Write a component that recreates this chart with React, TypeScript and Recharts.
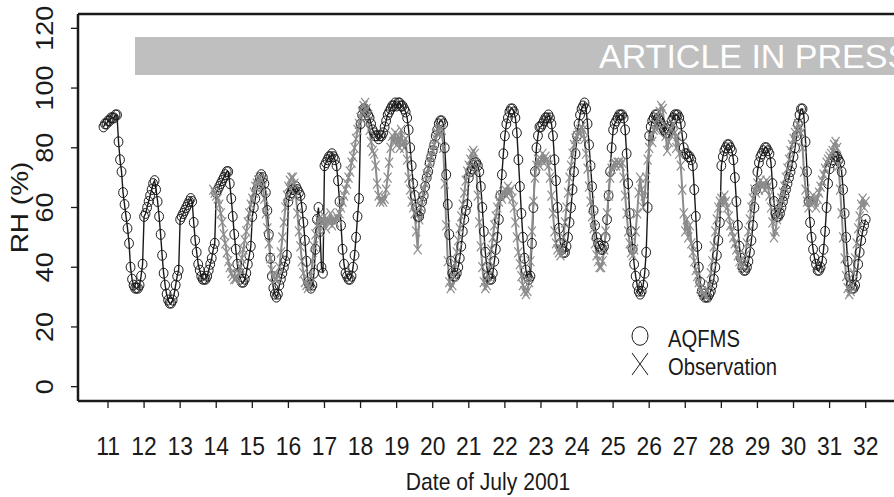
import React from "react";
import { LineChart, Line, XAxis, YAxis, ReferenceLine } from "recharts";

// tick labels / axes
const days = [11, 12, 13, 14, 15, 16, 17, 18, 19, 20, 21, 22, 23, 24, 25, 26, 27, 28, 29, 30, 31, 32];
const yTicks = [0, 20, 40, 60, 80, 100, 120];

// hourly RH (%), hours counted from July 11 00:00
const aqfmsStartHour = -3;
const obsStartHour = 70;

const aqfms = [
  87, 88, 88,
  89, 89, 90, 90, 90, 91, 91, 82, 76, 72, 65, 61, 57, 53, 48, 40, 36, 34, 33, 33, 33, 34, 37, 41, // 11
  57, 58, 60, 62, 64, 66, 68, 69, 66, 62, 57, 51, 44, 38, 34, 31, 29, 28, 28, 29, 31, 34, 37, 39, // 12
  56, 57, 58, 59, 60, 61, 62, 63, 62, 55, 49, 45, 41, 39, 37, 36, 36, 36, 37, 39, 41, 43, 46, 48, // 13
  65, 66, 67, 68, 69, 70, 71, 72, 72, 68, 63, 57, 51, 46, 41, 38, 36, 35, 35, 36, 38, 41, 44, 47, // 14
  57, 60, 63, 66, 68, 70, 71, 70, 68, 65, 59, 51, 43, 37, 33, 31, 30, 31, 34, 36, 38, 40, 42, 44, // 15
  62, 64, 65, 66, 66, 67, 66, 65, 64, 60, 55, 49, 42, 35, 34, 33, 34, 38, 46, 56, 60, 52, 40, 38, // 16
  74, 75, 76, 77, 77, 78, 77, 76, 74, 69, 62, 54, 46, 41, 38, 37, 36, 36, 37, 40, 44, 50, 57, 63, // 17
  88, 91, 93, 93, 92, 91, 90, 88, 86, 85, 84, 84, 83, 84, 84, 85, 87, 89, 91, 92, 93, 94, 94, 95, // 18
  94, 95, 95, 94, 94, 93, 92, 90, 86, 80, 74, 68, 64, 60, 57, 57, 59, 62, 64, 67, 70, 72, 75, 77, // 19
  79, 81, 84, 86, 88, 89, 89, 88, 80, 71, 61, 51, 42, 38, 37, 37, 38, 40, 43, 47, 52, 56, 59, 61, // 20
  70, 72, 73, 74, 75, 75, 74, 72, 67, 60, 52, 45, 40, 37, 36, 36, 38, 42, 46, 50, 56, 64, 71, 78, // 21
  84, 88, 90, 92, 93, 93, 92, 90, 85, 76, 67, 58, 50, 43, 39, 37, 36, 37, 48, 60, 72, 80, 84, 87, // 22
  87, 88, 89, 90, 90, 91, 90, 88, 84, 76, 69, 60, 53, 48, 46, 45, 45, 47, 50, 55, 60, 66, 72, 78, // 23
  84, 88, 91, 93, 94, 95, 93, 88, 81, 74, 67, 59, 54, 50, 48, 47, 46, 46, 47, 50, 56, 64, 72, 80, // 24
  86, 88, 89, 90, 91, 91, 91, 90, 86, 78, 68, 58, 52, 46, 41, 37, 34, 32, 31, 32, 34, 38, 45, 60, // 25
  84, 87, 89, 90, 91, 91, 90, 89, 88, 87, 86, 85, 85, 86, 87, 89, 90, 91, 91, 91, 90, 88, 84, 80, // 26
  78, 78, 77, 77, 76, 74, 66, 57, 47, 40, 35, 32, 31, 30, 30, 30, 31, 32, 34, 36, 40, 44, 49, 55, // 27
  74, 77, 79, 80, 81, 81, 80, 79, 76, 70, 62, 54, 47, 43, 40, 39, 39, 40, 42, 45, 49, 54, 60, 66, // 28
  72, 75, 77, 78, 79, 80, 80, 79, 78, 75, 68, 62, 58, 57, 57, 58, 60, 62, 64, 66, 68, 70, 72, 74, // 29
  77, 80, 84, 88, 91, 93, 93, 90, 82, 72, 62, 55, 50, 46, 43, 41, 39, 39, 40, 42, 46, 52, 60, 68, // 30
  73, 75, 76, 77, 77, 77, 76, 75, 72, 66, 58, 50, 42, 37, 34, 33, 33, 34, 37, 41, 45, 49, 52, 54, // 31
  56,
];

const observation = [
  66, 65, // 13 (22h, 23h)
  64, 63, 61, 58, 55, 51, 48, 45, 42, 40, 38, 37, 36, 36, 37, 38, 40, 43, 46, 49, 52, 55, 58, 61, // 14
  63, 65, 67, 68, 69, 70, 69, 67, 63, 58, 53, 48, 43, 39, 37, 36, 36, 37, 40, 45, 50, 55, 60, 64, // 15
  67, 69, 70, 70, 68, 64, 58, 52, 47, 42, 38, 35, 34, 33, 34, 37, 42, 47, 51, 54, 56, 52, 56, 55, // 16
  57, 53, 56, 55, 58, 54, 56, 55, 57, 56, 58, 60, 62, 64, 66, 68, 70, 72, 75, 77, 80, 83, 86, 88, // 17
  90, 92, 94, 95, 93, 91, 86, 82, 79, 78, 74, 68, 64, 62, 63, 62, 63, 66, 70, 75, 80, 84, 82, 85, // 18
  81, 84, 80, 86, 82, 80, 83, 76, 70, 66, 62, 60, 58, 52, 46, 56, 60, 63, 66, 68, 71, 73, 75, 77, // 19
  79, 81, 83, 85, 86, 87, 86, 80, 68, 54, 42, 35, 33, 34, 37, 41, 45, 49, 53, 57, 61, 65, 69, 72, // 20
  74, 76, 78, 79, 78, 73, 64, 55, 47, 40, 35, 33, 34, 37, 42, 46, 50, 54, 57, 60, 62, 64, 63, 65, // 21
  66, 64, 67, 65, 66, 63, 60, 55, 50, 45, 41, 37, 34, 32, 31, 32, 35, 42, 52, 62, 70, 74, 76, 74, // 22
  76, 78, 75, 77, 76, 74, 70, 64, 58, 52, 48, 46, 45, 44, 46, 50, 55, 60, 65, 70, 74, 78, 81, 83, // 23
  84, 85, 86, 87, 86, 83, 78, 73, 67, 62, 57, 53, 48, 44, 42, 40, 40, 42, 46, 52, 58, 64, 70, 73, // 24
  74, 75, 74, 75, 75, 74, 75, 70, 64, 58, 52, 48, 45, 44, 46, 52, 58, 65, 70, 66, 60, 64, 70, 76, // 25
  80, 84, 82, 86, 88, 86, 90, 92, 94, 93, 88, 84, 79, 82, 86, 84, 88, 85, 80, 84, 78, 74, 66, 58, // 26
  52, 56, 50, 54, 48, 45, 42, 39, 37, 35, 33, 32, 31, 31, 30, 32, 34, 38, 42, 47, 52, 56, 60, 62, // 27
  63, 61, 64, 62, 60, 57, 54, 52, 50, 48, 46, 44, 42, 41, 40, 41, 44, 48, 52, 56, 60, 63, 66, 65, // 28
  68, 66, 69, 67, 68, 66, 69, 67, 64, 60, 55, 50, 52, 56, 59, 61, 63, 65, 67, 70, 73, 76, 79, 81, // 29
  83, 85, 86, 88, 87, 85, 80, 72, 66, 62, 60, 63, 61, 64, 62, 60, 63, 65, 67, 69, 71, 73, 75, 76, // 30
  77, 78, 79, 81, 82, 80, 74, 66, 58, 50, 43, 37, 33, 31, 32, 34, 38, 43, 48, 53, 57, 61, 63, 60, // 31
  62,
];

const data = aqfms.map((v, i) => {
  const h = aqfmsStartHour + i;
  const j = h - obsStartHour;
  return {
    x: 11 + h / 24,
    aqfms: v,
    obs: j >= 0 && j < observation.length ? observation[j] : null,
  };
});

const FONT = '"Liberation Sans", Arial, Helvetica, sans-serif';
const INK = "#1a1a1a";
const GREY = "#8c8c8c";
const SQ = 0.88;

const XTick = (p: any) => (
  <text
    transform={`translate(${p.x},${p.y + 45}) scale(${SQ},1)`}
    textAnchor="middle"
    fontSize={26}
    fontFamily={FONT}
    fill={INK}
  >
    {p.payload.value}
  </text>
);

const YTick = (p: any) => (
  <text
    transform={`translate(${p.x - 16},${p.y}) scale(${SQ},1) rotate(-90)`}
    textAnchor="middle"
    fontSize={27}
    fontFamily={FONT}
    fill={INK}
  >
    {p.payload.value}
  </text>
);

const CircleDot = (p: any) => {
  const { cx, cy, index } = p;
  if (cx == null || cy == null || p.value == null) return <g key={`c${index}`} />;
  return (
    <ellipse key={`c${index}`} cx={cx} cy={cy} rx={4.4} ry={5} fill="none" stroke={INK} strokeWidth={1} />
  );
};

const CrossDot = (p: any) => {
  const { cx, cy, index } = p;
  if (cx == null || cy == null || p.value == null) return <g key={`x${index}`} />;
  return (
    <g key={`x${index}`} stroke={GREY} strokeWidth={1.2}>
      <line x1={cx - 4} y1={cy - 5} x2={cx + 4} y2={cy + 5} />
      <line x1={cx - 4} y1={cy + 5} x2={cx + 4} y2={cy - 5} />
    </g>
  );
};

const XTitle = (p: any) => {
  const vb = p.viewBox || { x: 78, y: 401, width: 820 };
  return (
    <text
      transform={`translate(${vb.x + vb.width / 2},${vb.y + 89}) scale(${SQ},1)`}
      textAnchor="middle"
      fontSize={24}
      fontFamily={FONT}
      fill={INK}
    >
      Date of July 2001
    </text>
  );
};

const YTitle = (p: any) => {
  const vb = p.viewBox || { x: 0, y: 14, height: 387 };
  return (
    <text
      transform={`translate(${vb.x + 28},${vb.y + vb.height / 2}) scale(${SQ},1) rotate(-90)`}
      textAnchor="middle"
      fontSize={28}
      fontFamily={FONT}
      fill={INK}
    >
      RH (%)
    </text>
  );
};

export default function App() {
  return (
    <div
      style={{
        position: "absolute",
        left: 0,
        top: 0,
        width: 894,
        height: 497,
        overflow: "hidden",
        background: "#fff",
      }}
    >
      <LineChart width={898} height={497} data={data} margin={{ top: 14, right: 0, bottom: 0, left: 0 }}>
        <XAxis
          dataKey="x"
          type="number"
          domain={[10.1685, 32.896]}
          allowDataOverflow
          ticks={days}
          interval={0}
          height={96}
          tickSize={7}
          tickLine={{ stroke: INK, strokeWidth: 1.3 }}
          axisLine={{ stroke: INK, strokeWidth: 2.5 }}
          tick={XTick}
          label={XTitle}
        />
        <YAxis
          type="number"
          domain={[-4.8, 124.8]}
          allowDataOverflow
          ticks={yTicks}
          interval={0}
          width={78}
          tickSize={7}
          tickLine={{ stroke: INK, strokeWidth: 1.3 }}
          axisLine={{ stroke: INK, strokeWidth: 2.5 }}
          tick={YTick}
          label={YTitle}
        />
        <ReferenceLine y={124.8} stroke={INK} strokeWidth={2.5} />
        <Line
          dataKey="aqfms"
          type="linear"
          stroke={INK}
          strokeWidth={1.4}
          dot={CircleDot}
          activeDot={false}
          isAnimationActive={false}
        />
        <Line
          dataKey="obs"
          type="linear"
          stroke={GREY}
          strokeWidth={2}
          dot={CrossDot}
          activeDot={false}
          connectNulls={false}
          isAnimationActive={false}
        />
      </LineChart>
      <svg
        width={894}
        height={497}
        style={{ position: "absolute", left: 0, top: 0, pointerEvents: "none" }}
      >
        <rect x={135} y={37} width={800} height={38} fill="#bfbfbf" />
        <text x={599} y={68} fontSize={34} fontFamily={FONT} fill="#fff">
          ARTICLE IN PRESS
        </text>
        <ellipse cx={640} cy={336} rx={8} ry={9.3} fill="none" stroke={INK} strokeWidth={1} />
        <line x1={632} y1={353} x2={648} y2={375} stroke={INK} strokeWidth={1} />
        <line x1={632} y1={375} x2={648} y2={353} stroke={INK} strokeWidth={1} />
        <text transform={`translate(668,347) scale(${SQ},1)`} fontSize={23} fontFamily={FONT} fill={INK}>
          AQFMS
        </text>
        <text transform={`translate(668,375) scale(${SQ},1)`} fontSize={23} fontFamily={FONT} fill={INK}>
          Observation
        </text>
      </svg>
    </div>
  );
}
